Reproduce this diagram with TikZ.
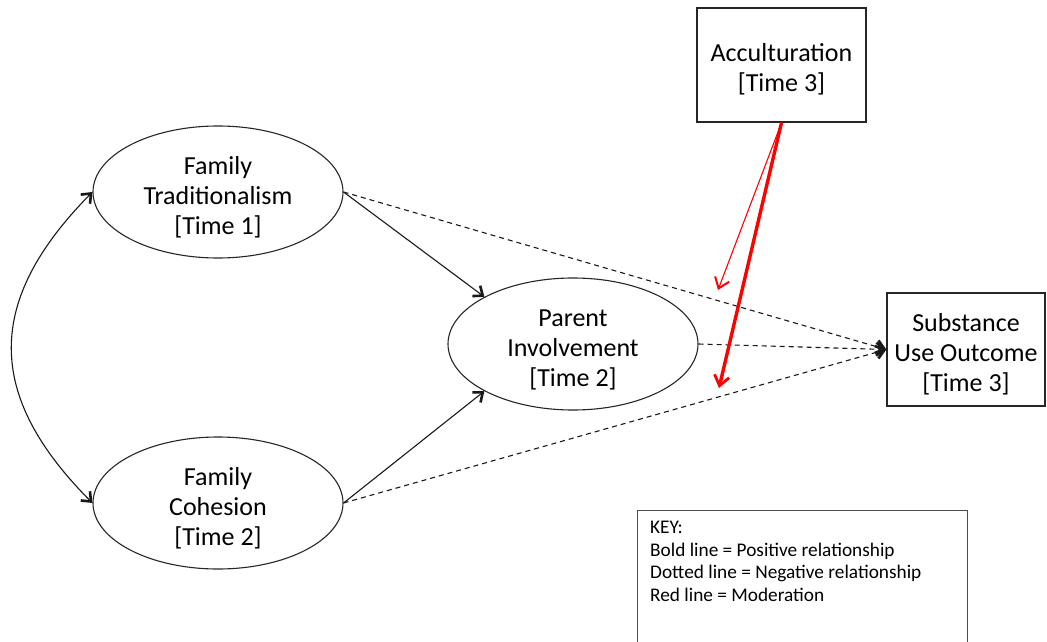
\documentclass[tikz,border=0pt]{standalone}
\usepackage{fontspec}
\setmainfont{Carlito}
\usetikzlibrary{arrows.meta,shapes.geometric}
% centred multi-line label, set a little below the node centre
\newcommand{\lbltext}[1]{\raisebox{-6pt}[\height][\depth]{\begin{tabular}{@{}c@{}}#1\end{tabular}}}
\begin{document}
\begin{tikzpicture}[x=1pt,y=-1pt,
  every node/.style={font=\fontsize{26}{30}\selectfont, align=center, text=black},
  latent/.style={ellipse, draw=black!85, line width=1.1pt, minimum width=250pt, minimum height=132pt, inner sep=0pt},
  observed/.style={rectangle, draw=black!85, line width=1.3pt, inner sep=0pt},
  tipblack/.style={-{Straight Barb[length=8pt,width=13pt,line width=2.6pt]}},
  pospath/.style={line width=1.1pt, draw=black!90, tipblack},
  negpath/.style={line width=1.1pt, draw=black!90, dash pattern=on 5pt off 4pt, tipblack},
  covpath/.style={line width=1.1pt, draw=black!90,
    {Straight Barb[length=8pt,width=13pt,line width=2.6pt]}-{Straight Barb[length=8pt,width=13pt,line width=2.6pt]}},
  modthin/.style={line width=1.1pt, draw=red, -{Straight Barb[length=10pt,width=15pt,line width=2pt]}},
  modthick/.style={line width=3.4pt, draw=red, -{Straight Barb[length=10pt,width=15pt,line width=2.8pt]}}
]
\clip (0,0) rectangle (1047,642);
\fill[white] (0,0) rectangle (1047,642);

% constructs
\node[latent] (FT) at (218,192) {\lbltext{Family\\Traditionalism\\{[Time 1]}}};
\node[latent] (FC) at (218,503) {\lbltext{Family\\Cohesion\\{[Time 2]}}};
\node[latent] (PI) at (573,344) {\lbltext{Parent\\Involvement\\{[Time 2]}}};
\node[observed, minimum width=169pt, minimum height=114pt] (AC) at (781.5,65) {\lbltext{Acculturation\\{[Time 3]}}};
\node[observed, minimum width=158pt, minimum height=113pt] (SU) at (966,349.5) {\lbltext{Substance\\Use Outcome\\{[Time 3]}}};

% key
\node[rectangle, draw=black!70, line width=1pt, minimum width=330pt, minimum height=140pt,
      anchor=north west, inner sep=0pt] (key) at (637,510) {};
\node[anchor=north west, inner sep=0pt, align=left, font=\fontsize{19.3}{22.6}\selectfont] (keytext) at (650,521)
  {KEY:\\Bold line = Positive relationship\\Dotted line = Negative relationship\\Red line = Moderation};

% covariance between the two family measures
\draw[covpath] (FT.west) .. controls (-15,301) and (-15,395) .. (FC.west);

% positive paths
\draw[pospath] (FT.east) -- (PI.152);
\draw[pospath] (FC.east) -- (PI.208);

% negative paths
\draw[negpath] (FT.east) -- (SU.west);
\draw[negpath] (PI.east) -- (SU.west);
\draw[negpath] (FC.east) -- (SU.west);

% moderation by acculturation
\coordinate (m1) at (718,290);
\coordinate (m2) at (719,388);
\draw[modthin] (AC.south) -- (m1);
\draw[modthick] (AC.south) -- (m2);
\end{tikzpicture}
\end{document}
